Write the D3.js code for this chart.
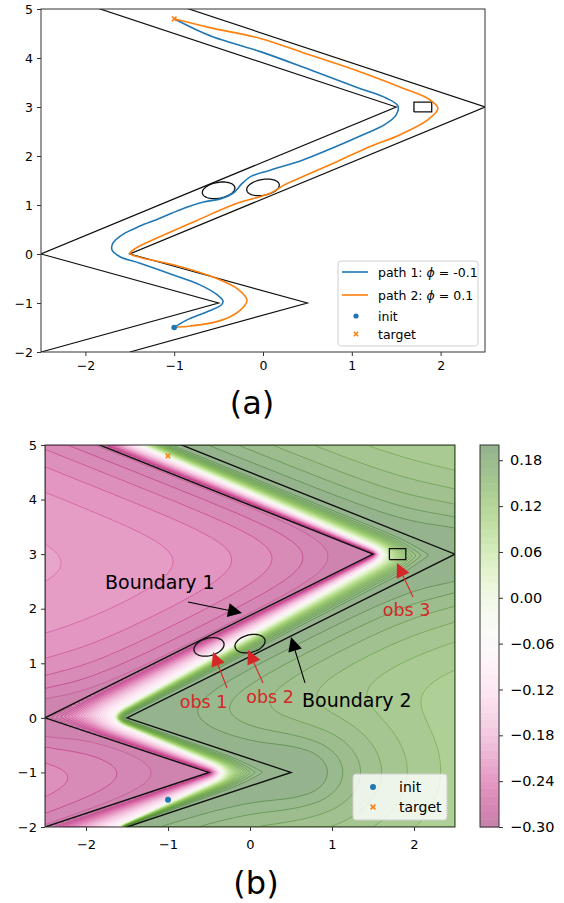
<!DOCTYPE html>
<html>
<head>
<meta charset="utf-8">
<script src="https://cdn.jsdelivr.net/npm/d3@7"></script>
<style>
  body { margin: 0; background: #fff; }
  svg { display: block; }
  text { font-family: "DejaVu Sans", sans-serif; fill: #000; }
</style>
</head>
<body>
<svg id="fig" width="564" height="903"></svg>
<script>
// ---- values ----
const xTicks = [-2, -1, 0, 1, 2];
const yTicks = [-2, -1, 0, 1, 2, 3, 4, 5];
const cbarTicks = [0.18, 0.12, 0.06, 0.00, -0.06, -0.12, -0.18, -0.24, -0.30];

const boundary1 = [[-3.5, 6], [1.5, 3], [-2.5, 0], [-0.5, -1], [-2.5, -2]];
const boundary2 = [[-2.5, 6], [2.5, 3], [-1.5, 0], [0.5, -1], [-1.5, -2]];
const obsEllipses = [
  {cx: -0.5, cy: 1.3, a: 0.2, b: 0.15, deg: 36.87},
  {cx: 0.0, cy: 1.36, a: 0.2, b: 0.15, deg: 36.87}
];
const obsRect = {x0: 1.7, x1: 1.9, y0: 2.9, y1: 3.1};
const initPt = [-1, -1.5];
const targetPt = [-1, 4.8];

// path 1: phi = -0.1 (blue)
const path1 = [[-1, -1.5], [-0.86, -1.35], [-0.63, -1.18], [-0.47, -1.04], [-0.45, -0.96], [-0.51, -0.84],
  [-0.71, -0.63], [-1.01, -0.43], [-1.385, -0.19], [-1.61, -0.055], [-1.70, 0.08], [-1.69, 0.22],
  [-1.57, 0.41], [-1.385, 0.57], [-1.2, 0.70], [-1.03, 0.83], [-0.85, 0.96], [-0.67, 1.06], [-0.47, 1.13],
  [-0.33, 1.25], [-0.24, 1.43], [-0.14, 1.58], [0.08, 1.71], [0.45, 1.92], [0.83, 2.2], [1.12, 2.43],
  [1.37, 2.64], [1.50, 2.84], [1.52, 3.02], [1.39, 3.18], [1.09, 3.38], [0.53, 3.76], [-0.03, 4.13],
  [-0.56, 4.43], [-0.78, 4.60], [-1, 4.8]];
// path 2: phi = 0.1 (orange)
const path2 = [[-1, -1.5], [-0.82, -1.47], [-0.52, -1.38], [-0.33, -1.24], [-0.21, -1.06], [-0.18, -0.94],
  [-0.28, -0.72], [-0.52, -0.5], [-1.01, -0.22], [-1.38, -0.07], [-1.5, 0.01], [-1.44, 0.11],
  [-1.2, 0.32], [-0.75, 0.68], [-0.3, 1.03], [0.08, 1.24], [0.23, 1.40], [0.45, 1.58], [0.85, 1.9],
  [1.2, 2.19], [1.54, 2.43], [1.85, 2.73], [1.97, 2.97], [1.86, 3.17], [1.54, 3.41], [1.09, 3.72],
  [0.53, 4.06], [-0.03, 4.4], [-0.6, 4.62], [-1, 4.8]];

// where the potential in (b) crosses its midpoint (white band); corners get rounded
const zeroBand = [[-3.02, -3], [-0.22, -1], [-1.77, 0], [1.72, 3], [-3.65, 6.5]];

const notes = [
  {text: "Boundary 1", color: "#000", size: 19, anchor: "start", at: [-1.768, 2.36], tail: [-0.756, 2.124], tip: [-0.098, 1.922]},
  {text: "Boundary 2", color: "#000", size: 19, anchor: "start", at: [0.634, 0.20], tail: [0.671, 0.64], tip: [0.5, 1.48]},
  {text: "obs 1", color: "#d62728", size: 17.5, anchor: "middle", at: [-0.567, 0.18], tail: [-0.28, 0.548], tip: [-0.451, 1.208]},
  {text: "obs 2", color: "#d62728", size: 17.5, anchor: "middle", at: [0.244, 0.273], tail: [0.159, 0.64], tip: [-0.024, 1.244]},
  {text: "obs 3", color: "#d62728", size: 17.5, anchor: "middle", at: [1.909, 1.867], tail: [1.988, 2.215], tip: [1.793, 2.838]}
];

const blue = "#1f77b4", orange = "#ff7f0e";
const svg = d3.select("#fig");

// ---- scales ----
const topX = d3.scaleLinear().domain([-2.5, 2.5]).range([41, 485]);
const topY = d3.scaleLinear().domain([-2, 5]).range([352, 9]);
const botX = d3.scaleLinear().domain([-2.5, 2.5]).range([45, 455]);
const botY = d3.scaleLinear().domain([-2, 5]).range([827, 445]);
const cbarY = d3.scaleLinear().domain([-0.3, 0.2]).range([827, 445]);

const pal = v => d3.interpolatePiYG((v + 0.3) / 0.5);
const fillCol = v => d3.interpolateRgb("#fff", pal(v))(0.5);

// ---- geometry helpers ----
function segDist(px, py, a, b) {
  const dx = b[0] - a[0], dy = b[1] - a[1];
  let t = ((px - a[0]) * dx + (py - a[1]) * dy) / (dx * dx + dy * dy);
  t = Math.max(0, Math.min(1, t));
  return Math.hypot(px - a[0] - t * dx, py - a[1] - t * dy);
}
function polyDist(px, py, pts) {
  let m = Infinity;
  for (let i = 0; i < pts.length - 1; i++) m = Math.min(m, segDist(px, py, pts[i], pts[i + 1]));
  return m;
}
function softDist(px, py, pts, k) {
  let s = 0;
  for (let i = 0; i < pts.length - 1; i++) s += Math.exp(-segDist(px, py, pts[i], pts[i + 1]) / k);
  return -k * Math.log(s);
}
function roundCorners(pts, r, n) {
  const out = [pts[0]];
  for (let i = 1; i < pts.length - 1; i++) {
    const p = pts[i], a = pts[i - 1], b = pts[i + 1];
    const la = Math.hypot(a[0] - p[0], a[1] - p[1]), lb = Math.hypot(b[0] - p[0], b[1] - p[1]);
    const s = [p[0] + (a[0] - p[0]) * r / la, p[1] + (a[1] - p[1]) * r / la];
    const e = [p[0] + (b[0] - p[0]) * r / lb, p[1] + (b[1] - p[1]) * r / lb];
    for (let k = 0; k <= n; k++) {
      const t = k / n;
      out.push([(1 - t) * (1 - t) * s[0] + 2 * (1 - t) * t * p[0] + t * t * e[0],
                (1 - t) * (1 - t) * s[1] + 2 * (1 - t) * t * p[1] + t * t * e[1]]);
    }
  }
  out.push(pts[pts.length - 1]);
  return out;
}

const bandPts = roundCorners(zeroBand, 0.3, 14);
const bandX = d3.scaleLinear().domain(bandPts.map(d => d[1])).range(bandPts.map(d => d[0]));
const b1X = d3.scaleLinear().domain(boundary1.map(d => d[1])).range(boundary1.map(d => d[0]));

function potential(x, y) {
  const u = x - b1X(y);
  let f;
  if (u < 0) {
    f = -0.282 + 0.06 * (1 - Math.exp(-Math.max(0, softDist(x, y, boundary1, 0.4)) / 0.9));
  } else if (u > 1) {
    f = 0.2 - 0.09 * (1 - Math.exp(-Math.max(0, softDist(x, y, boundary2, 0.4)) / 1.4));
  } else {
    const dW = polyDist(x, y, bandPts);
    if (x < bandX(y)) {
      const dB = polyDist(x, y, boundary1);
      f = -0.05 - 0.25 * dW / (dW + dB + 1e-9);
    } else {
      const dB = polyDist(x, y, boundary2);
      const q = dW / (dW + dB + 1e-9);
      f = -0.05 + 0.25 * (1 - Math.pow(1 - q, 2.2));
    }
  }
  return Math.max(-0.3, Math.min(0.2, f));
}

// ================= panel (a) =================
const ga = svg.append("g");
ga.append("clipPath").attr("id", "clipA").append("rect")
  .attr("x", 41).attr("y", 9).attr("width", 444).attr("height", 343);
const plotA = ga.append("g").attr("clip-path", "url(#clipA)");
const lineA = d3.line().x(d => topX(d[0])).y(d => topY(d[1]));
const smoothA = d3.line().x(d => topX(d[0])).y(d => topY(d[1])).curve(d3.curveCatmullRom.alpha(0.5));

[boundary1, boundary2].forEach(b => plotA.append("path").attr("d", lineA(b))
  .attr("fill", "none").attr("stroke", "#111").attr("stroke-width", 1.2));

function ellipsePts(e) {
  const c = Math.cos(e.deg * Math.PI / 180), s = Math.sin(e.deg * Math.PI / 180);
  return d3.range(0, 73).map(k => {
    const t = k / 72 * 2 * Math.PI;
    return [e.cx + e.a * Math.cos(t) * c - e.b * Math.sin(t) * s, e.cy + e.a * Math.cos(t) * s + e.b * Math.sin(t) * c];
  });
}
const rectPts = [[obsRect.x0, obsRect.y0], [obsRect.x1, obsRect.y0], [obsRect.x1, obsRect.y1], [obsRect.x0, obsRect.y1], [obsRect.x0, obsRect.y0]];

function drawObstacles(g, line) {
  obsEllipses.forEach(e => g.append("path").attr("d", line(ellipsePts(e)))
    .attr("fill", "none").attr("stroke", "#111").attr("stroke-width", 1.3));
  g.append("path").attr("d", line(rectPts)).attr("fill", "none").attr("stroke", "#111").attr("stroke-width", 1.3);
}
drawObstacles(plotA, lineA);

plotA.append("path").attr("d", smoothA(path1)).attr("fill", "none").attr("stroke", blue).attr("stroke-width", 1.6);
plotA.append("path").attr("d", smoothA(path2)).attr("fill", "none").attr("stroke", orange).attr("stroke-width", 1.6);

function xMark(g, x, y, s) {
  g.append("path").attr("d", `M${x - s},${y - s}L${x + s},${y + s}M${x - s},${y + s}L${x + s},${y - s}`)
    .attr("stroke", orange).attr("stroke-width", 1.5);
}
plotA.append("circle").attr("cx", topX(initPt[0])).attr("cy", topY(initPt[1])).attr("r", 2.8).attr("fill", blue);
xMark(plotA, topX(targetPt[0]), topY(targetPt[1]), 2.3);

function drawAxes(g, xs, ys, fs, xpad) {
  const ax = g.append("g").attr("transform", `translate(0,${ys.range()[0]})`)
    .call(d3.axisBottom(xs).tickValues(xTicks).tickSize(4).tickPadding(xpad).tickFormat(d3.format("d")));
  const ay = g.append("g").attr("transform", `translate(${xs.range()[0]},0)`)
    .call(d3.axisLeft(ys).tickValues(yTicks).tickSize(4).tickPadding(4).tickFormat(d3.format("d")));
  [ax, ay].forEach(a => {
    a.select(".domain").remove();
    a.selectAll("text").attr("font-size", fs).attr("font-family", "DejaVu Sans").attr("fill", "#000");
    a.selectAll("line").attr("stroke", "#333");
  });
  g.append("rect").attr("x", xs.range()[0]).attr("y", ys.range()[1])
    .attr("width", xs.range()[1] - xs.range()[0]).attr("height", ys.range()[0] - ys.range()[1])
    .attr("fill", "none").attr("stroke", "#333").attr("stroke-width", 1);
}
drawAxes(ga, topX, topY, 12.5, 5);

// legend (a)
const lgA = ga.append("g").attr("transform", "translate(338,261)");
lgA.append("rect").attr("width", 140).attr("height", 85).attr("rx", 3)
  .attr("fill", "#fff").attr("fill-opacity", 0.8).attr("stroke", "#d0d0d0");
[[blue, "-0.1"], [orange, "0.1"]].forEach(([c, v], i) => {
  const yy = 11 + i * 23;
  lgA.append("line").attr("x1", 4).attr("x2", 30).attr("y1", yy).attr("y2", yy).attr("stroke", c).attr("stroke-width", 1.6);
  const t = lgA.append("text").attr("x", 40).attr("y", yy + 4.5).attr("font-size", 12.5);
  t.append("tspan").text(`path ${i + 1}: `);
  t.append("tspan").attr("font-style", "italic").text("ϕ");
  t.append("tspan").text(" = " + v);
});
lgA.append("circle").attr("cx", 18).attr("cy", 55).attr("r", 2.6).attr("fill", blue);
lgA.append("text").attr("x", 40).attr("y", 59.5).attr("font-size", 12.5).text("init");
xMark(lgA, 18, 73, 2.2);
lgA.append("text").attr("x", 40).attr("y", 77.5).attr("font-size", 12.5).text("target");

svg.append("text").attr("x", 252).attr("y", 414).attr("text-anchor", "middle").attr("font-size", 32).text("(a)");

// ================= panel (b) =================
const gb = svg.append("g");
gb.append("clipPath").attr("id", "clipB").append("rect")
  .attr("x", 45).attr("y", 445).attr("width", 410).attr("height", 382);
const plotB = gb.append("g").attr("clip-path", "url(#clipB)");

const nx = 205, ny = 191;
const values = new Float64Array(nx * ny);
for (let j = 0; j < ny; j++) {
  const y = 5 - (j + 0.5) * 7 / ny;
  for (let i = 0; i < nx; i++) {
    const x = -2.5 + (i + 0.5) * 5 / nx;
    values[j * nx + i] = potential(x, y);
  }
}
const fillLevels = d3.range(50).map(i => -0.3 + i * 0.01);
const lineLevels = d3.range(1, 50).map(i => -0.3 + i * 0.01);
const gridProj = d3.geoTransform({
  point(gx, gy) { this.stream.point(botX(-2.5 + gx * 5 / nx), botY(5 - gy * 7 / ny)); }
});
const gridPath = d3.geoPath(gridProj);

plotB.selectAll("path.fill")
  .data(d3.contours().size([nx, ny]).thresholds(fillLevels)(values))
  .join("path").attr("class", "fill")
  .attr("d", gridPath).attr("fill", d => fillCol(d.value + 0.005));
plotB.selectAll("path.iso")
  .data(d3.contours().size([nx, ny]).thresholds(lineLevels)(values))
  .join("path").attr("class", "iso")
  .attr("d", gridPath).attr("fill", "none").attr("stroke", d => pal(d.value))
  .attr("stroke-width", 0.6).attr("stroke-opacity", d => d.value < -0.27 ? 0.45 : 0.75);

const lineB = d3.line().x(d => botX(d[0])).y(d => botY(d[1]));
[boundary1, boundary2].forEach(b => plotB.append("path").attr("d", lineB(b))
  .attr("fill", "none").attr("stroke", "#111").attr("stroke-width", 1.4));
drawObstacles(plotB, lineB);
plotB.append("circle").attr("cx", botX(initPt[0])).attr("cy", botY(initPt[1])).attr("r", 3).attr("fill", blue);
xMark(plotB, botX(targetPt[0]), botY(targetPt[1]), 2.3);

// annotations
notes.forEach(n => {
  const [x1, y1] = [botX(n.tail[0]), botY(n.tail[1])];
  const [x2, y2] = [botX(n.tip[0]), botY(n.tip[1])];
  const L = Math.hypot(x2 - x1, y2 - y1), ux = (x2 - x1) / L, uy = (y2 - y1) / L;
  const hl = 14, hw = 7;
  const bx = x2 - ux * hl, by = y2 - uy * hl;
  gb.append("line").attr("x1", x1).attr("y1", y1).attr("x2", bx).attr("y2", by)
    .attr("stroke", n.color).attr("stroke-width", 1.1);
  gb.append("path").attr("d", `M${x2},${y2}L${bx - uy * hw},${by + ux * hw}L${bx + uy * hw},${by - ux * hw}Z`)
    .attr("fill", n.color);
  gb.append("text").attr("x", botX(n.at[0])).attr("y", botY(n.at[1]))
    .attr("text-anchor", n.anchor).attr("font-size", n.size).style("fill", n.color).text(n.text);
});

drawAxes(gb, botX, botY, 13, 9);

// legend (b)
const lgB = gb.append("g").attr("transform", "translate(353,774)");
lgB.append("rect").attr("width", 94).attr("height", 46).attr("rx", 3)
  .attr("fill", "#fff").attr("fill-opacity", 0.8).attr("stroke", "#d0d0d0");
lgB.append("circle").attr("cx", 20).attr("cy", 13).attr("r", 3).attr("fill", blue);
lgB.append("text").attr("x", 46).attr("y", 18).attr("font-size", 14).text("init");
xMark(lgB, 20, 33, 2.4);
lgB.append("text").attr("x", 46).attr("y", 38).attr("font-size", 14).text("target");

// colorbar
const cb = svg.append("g");
cb.selectAll("rect.band").data(fillLevels).join("rect").attr("class", "band")
  .attr("x", 480).attr("width", 19)
  .attr("y", d => cbarY(d + 0.01)).attr("height", d => cbarY(d) - cbarY(d + 0.01) + 0.5)
  .attr("fill", d => fillCol(d + 0.005));
cb.append("rect").attr("x", 480).attr("y", 445).attr("width", 19).attr("height", 382)
  .attr("fill", "none").attr("stroke", "#333");
const cax = cb.append("g").attr("transform", "translate(499,0)")
  .call(d3.axisRight(cbarY).tickValues(cbarTicks).tickSize(4).tickPadding(7).tickFormat(d3.format(".2f")));
cax.select(".domain").remove();
cax.selectAll("text").attr("font-size", 14.5).attr("font-family", "DejaVu Sans").attr("fill", "#000");
cax.selectAll("line").attr("stroke", "#333");

svg.append("text").attr("x", 256).attr("y", 894).attr("text-anchor", "middle").attr("font-size", 32).text("(b)");
</script>
</body>
</html>
